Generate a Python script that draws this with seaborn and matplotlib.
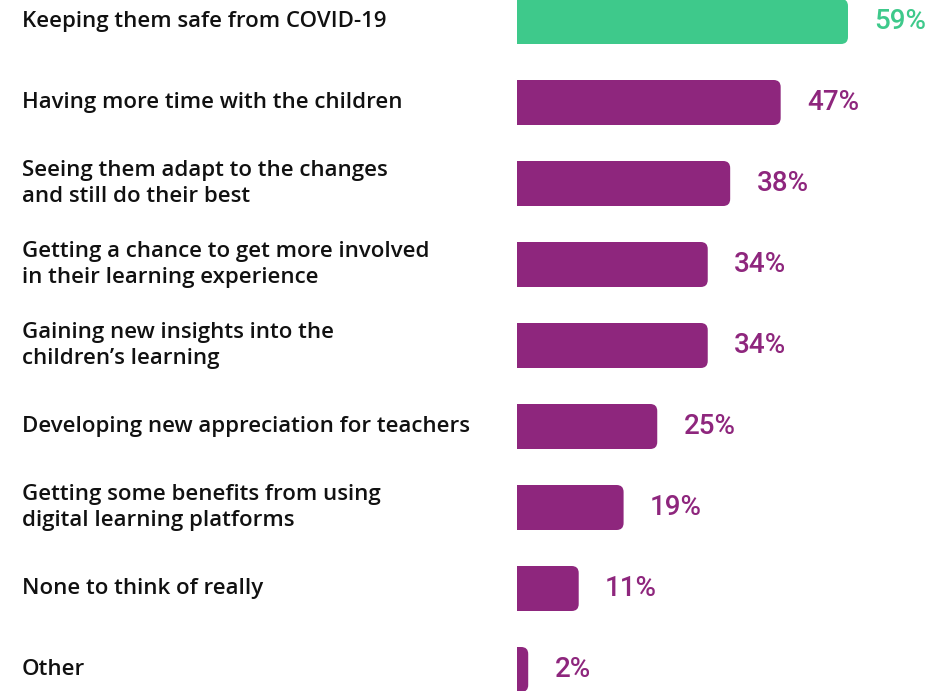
import matplotlib
matplotlib.use("Agg")
import matplotlib.pyplot as plt
import matplotlib.transforms as mtrans
from matplotlib.patches import FancyBboxPatch
import seaborn as sns
import pandas as pd

categories = [
    "Keeping them safe from COVID-19",
    "Having more time with the children",
    "Seeing them adapt to the changes\nand still do their best",
    "Getting a chance to get more involved\nin their learning experience",
    "Gaining new insights into the\nchildren\u2019s learning",
    "Developing new appreciation for teachers",
    "Getting some benefits from using\ndigital learning platforms",
    "None to think of really",
    "Other",
]
values = [59, 47, 38, 34, 34, 25, 19, 11, 2]
GREEN = "#3EC98B"
PURPLE = "#8E267D"
colors = [GREEN] + [PURPLE] * 8

df = pd.DataFrame({"cat": categories, "val": values})

sns.set_theme(style="white")
plt.rcParams["font.family"] = ["Open Sans", "DejaVu Sans"]

W, H = 949, 691
fig = plt.figure(figsize=(W / 100, H / 100), dpi=100)
ax_left = 517 / W
ax_w = (W - 517) / W
ax = fig.add_axes([ax_left, 0, ax_w, 1])

sns.barplot(data=df, y="cat", x="val", hue="cat", palette=colors, legend=False,
            orient="h", width=45 / 81, saturation=1, ax=ax)

px_per_unit = 5.61
ax.set_xlim(0, (W - 517) / px_per_unit)
ax.set_ylim((H - 21.5) / 81, -21.5 / 81)

# round right corners
rx = 7 / px_per_unit
ry = 7 / 81
for p in list(ax.patches):
    x, y = p.get_x(), p.get_y()
    w, h = p.get_width(), p.get_height()
    fc = p.get_facecolor()
    p.remove()
    fb = FancyBboxPatch((x - 3, y), w + 3, h,
                        boxstyle=f"round,pad=0,rounding_size={rx}",
                        mutation_aspect=ry / rx, facecolor=fc, edgecolor="none")
    ax.add_patch(fb)

for s in ax.spines.values():
    s.set_visible(False)
ax.set_xticks([])
ax.set_yticks([])
ax.set_xlabel("")
ax.set_ylabel("")

trans = mtrans.blended_transform_factory(fig.transFigure, ax.transData)
for i, (c, v) in enumerate(zip(categories, values)):
    ax.text(22 / W, i, c, transform=trans, ha="left", va="center",
            fontsize=16, fontweight="semibold", color="#111111", linespacing=1.36,
            clip_on=False)
    ax.annotate(f"{v}%", xy=(v, i), xytext=(19, 0), textcoords="offset points",
                ha="left", va="center", fontsize=20, fontweight="medium",
                family=["Roboto", "DejaVu Sans"],
                color=colors[i], annotation_clip=False)

fig.savefig("out.png", dpi=100)
